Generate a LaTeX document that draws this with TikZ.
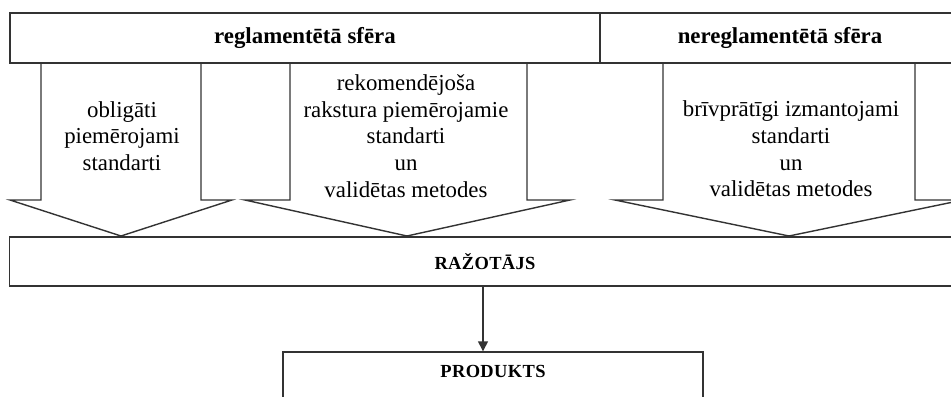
\documentclass[tikz,border=0pt]{standalone}
\usepackage{fontspec}
\setmainfont{Liberation Serif}
\usetikzlibrary{arrows.meta, positioning}

\begin{document}
\begin{tikzpicture}[
						x=0.02cm, y=-0.02cm,
						bar/.style = {draw=black!80, line width=0.8pt, rectangle, inner sep=0pt, minimum height=1cm, align=center},
						bigarrow/.style = {draw=black!80, line width=0.8pt, line join=miter},
						txt/.style = {align=center, inner sep=0pt, font=\fontsize{13}{15.2}\selectfont},
						caps/.style = {font=\fontsize{10.5}{12}\selectfont\bfseries\addfontfeature{LetterSpace=2}}
					]

					\useasboundingbox (0,0) rectangle (951,396);
					\clip (0,0) rectangle (951,396);

					% top bar
					\node[bar, minimum width=11.8cm, font=\fontsize{13}{15}\selectfont\bfseries] (reg) at (305,38) {reglamentētā sfēra};
					\node[bar, minimum width=7.2cm, font=\fontsize{13}{15}\selectfont\bfseries] (nereg) at (780,38) {nereglamentētā sfēra};

					% block arrows
					\draw[bigarrow] (41,63) -- (41,200) -- (10,200) -- (121,236) -- (232,200) -- (201,200) -- (201,63);
					\draw[bigarrow] (290,63) -- (290,200) -- (245,200) -- (407,236) -- (570,200) -- (527,200) -- (527,63);
					\draw[bigarrow] (663,63) -- (663,200) -- (615,200) -- (789,236) -- (963,200) -- (915,200) -- (915,63);

					\node[txt] (obl) at (122,136) {obligāti\\piemērojami\\standarti};
					\node[txt] (rek) at (406,136) {rekomendējoša\\rakstura piemērojamie\\standarti\\un\\validētas metodes};
					\node[txt] (briv) at (791,149) {brīvprātīgi izmantojami\\standarti\\un\\validētas metodes};

					% bottom boxes
					\node[bar, caps, minimum width=19.02cm, minimum height=0.98cm] (razotajs) at (485,261.5) {RAŽOTĀJS};
					\node[bar, caps, minimum width=8.4cm, text height=7pt, text depth=6.5pt] (produkts) at (493,377) {PRODUKTS};

					\draw[-{Triangle[length=2mm, width=2mm]}, draw=black!80, line width=0.8pt] ([xshift=-2mm]produkts.north |- razotajs.south) -- ([xshift=-2mm]produkts.north);
				\end{tikzpicture}
\end{document}
